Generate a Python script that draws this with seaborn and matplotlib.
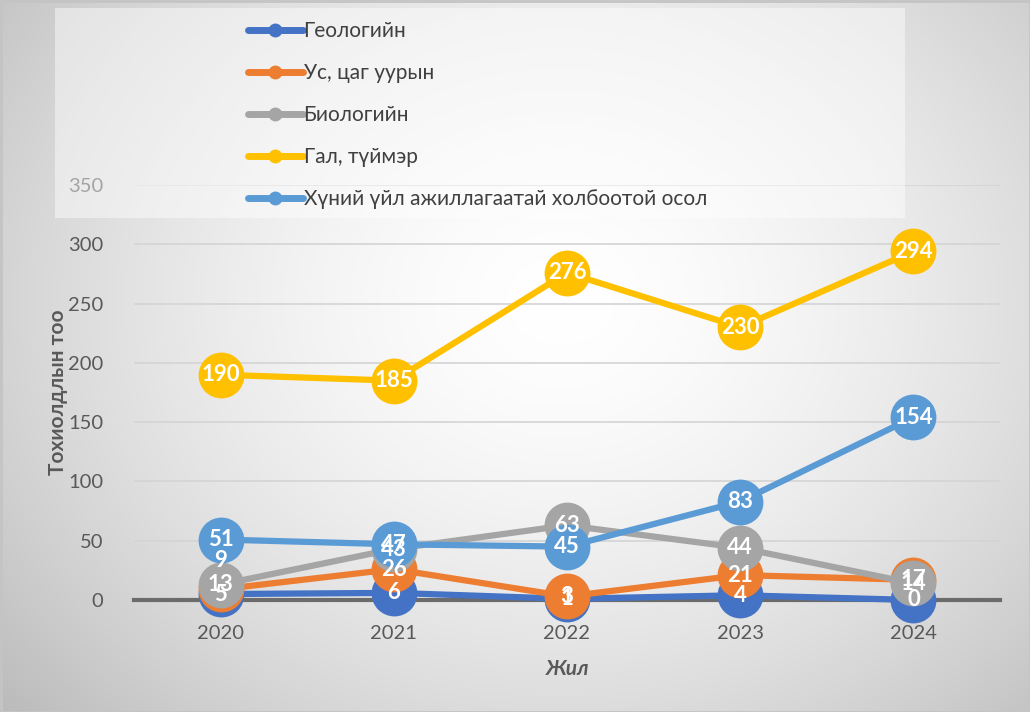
import numpy as np
import pandas as pd
import matplotlib
matplotlib.use("Agg")
import matplotlib.pyplot as plt
from matplotlib.lines import Line2D
from matplotlib.patches import Rectangle
import seaborn as sns

years = ["2020", "2021", "2022", "2023", "2024"]
series_names = [
    "Геологийн",
    "Ус, цаг уурын",
    "Биологийн",
    "Гал, түймэр",
    "Хүний үйл ажиллагаатай холбоотой осол",
]
geology = [5, 6, 1, 4, 0]
weather = [9, 26, 3, 21, 17]
biology = [13, 43, 63, 44, 14]
fire = [190, 185, 276, 230, 294]
human = [51, 47, 45, 83, 154]
colors = ["#4472C4", "#ED7D31", "#A5A5A5", "#FFC000", "#5B9BD5"]

values = [geology, weather, biology, fire, human]
rows = []
for name, vals in zip(series_names, values):
    for i, (yr, v) in enumerate(zip(years, vals)):
        rows.append({"x": i, "year": yr, "series": name, "value": v})
df = pd.DataFrame(rows)

sns.set_theme(style="white")
plt.rcParams["font.family"] = ["Lato", "Noto Sans", "DejaVu Sans"]

W, H = 1030, 712
fig = plt.figure(figsize=(W / 100, H / 100), dpi=100)

# radial grey-to-white background
bg = fig.add_axes([0, 0, 1, 1], zorder=-10)
yy, xx = np.mgrid[0:H, 0:W]
r = np.sqrt(((xx - 560) / 620.0) ** 2 + ((yy - 300) / 520.0) ** 2)
shade = 1.0 - 0.2 * np.clip(r, 0, 1.25) ** 1.6
bg.imshow(np.dstack([shade] * 3), extent=[0, W, H, 0], aspect="auto")
bg.add_patch(Rectangle((0.5, 0.5), W - 1, H - 1, fill=False, ec="#c4c4c4", lw=2))
bg.set_xlim(0, W)
bg.set_ylim(H, 0)
bg.axis("off")

left, right = 134 / W, 1000 / W
bottom, top = (H - 600) / H, (H - 185) / H
ax = fig.add_axes([left, bottom, right - left, top - bottom])
ax.patch.set_alpha(0)

sns.lineplot(
    data=df, x="x", y="value", hue="series", hue_order=series_names,
    palette=colors, marker="o", markersize=33, markeredgewidth=0,
    linewidth=4.5, sort=False, legend=False, ax=ax, clip_on=False,
)

label_offsets = {("Ус, цаг уурын", 0): 29}
for name, vals in zip(series_names, values):
    for i, v in enumerate(vals):
        off = label_offsets.get((name, i), 0)
        ax.annotate(str(v), (i, v), xytext=(0, off * 0.72), textcoords="offset points",
                    ha="center", va="center", color="white", fontsize=16,
                    fontweight="bold", zorder=10, annotation_clip=False)

ax.set_xlim(-0.5, 4.5)
ax.set_ylim(0, 350)
ax.set_yticks(np.arange(0, 351, 50))
ax.set_xticks(range(len(years)))
ax.set_xticklabels(years)
ax.set_xticks([-0.5, 4.5], minor=True)
ax.tick_params(axis="x", which="major", length=0, pad=18, labelsize=14.5, labelcolor="#595959")
ax.tick_params(axis="x", which="minor", length=6, width=2.5, color="#6b6b6b", direction="out")
ax.tick_params(axis="y", length=0, pad=22, labelsize=14.5, labelcolor="#595959")
ax.yaxis.grid(True, color="#d4d4d4", linewidth=1.2)
ax.set_axisbelow(True)
for s in ["left", "right", "top"]:
    ax.spines[s].set_visible(False)
ax.spines["bottom"].set_color("#6b6b6b")
ax.spines["bottom"].set_linewidth(3)
ax.spines["bottom"].set_zorder(1)

ax.set_xlabel("Жил", fontsize=15, fontweight="bold", fontstyle="italic",
              color="#595959", labelpad=12)
ax.set_ylabel("Тохиолдлын тоо", fontsize=15, fontweight="bold", color="#595959",
              labelpad=0)

# translucent legend panel over the top of the plot
fig.patches.append(Rectangle((55 / W, (H - 218) / H), 850 / W, 210 / H,
                             transform=fig.transFigure, fc="white", alpha=0.45,
                             ec="none", zorder=5))
handles = [Line2D([0], [0], color=c, lw=5, marker="o", markersize=9) for c in colors]
leg = fig.legend(handles, series_names, loc="upper left",
                 bbox_to_anchor=(240 / W, 1 - 13 / H), frameon=False,
                 fontsize=15, labelspacing=1.05, handlelength=2.6,
                 handletextpad=0.05, borderaxespad=0)
for t in leg.get_texts():
    t.set_color("#404040")
leg.set_zorder(6)

fig.savefig("out.png", dpi=100)
